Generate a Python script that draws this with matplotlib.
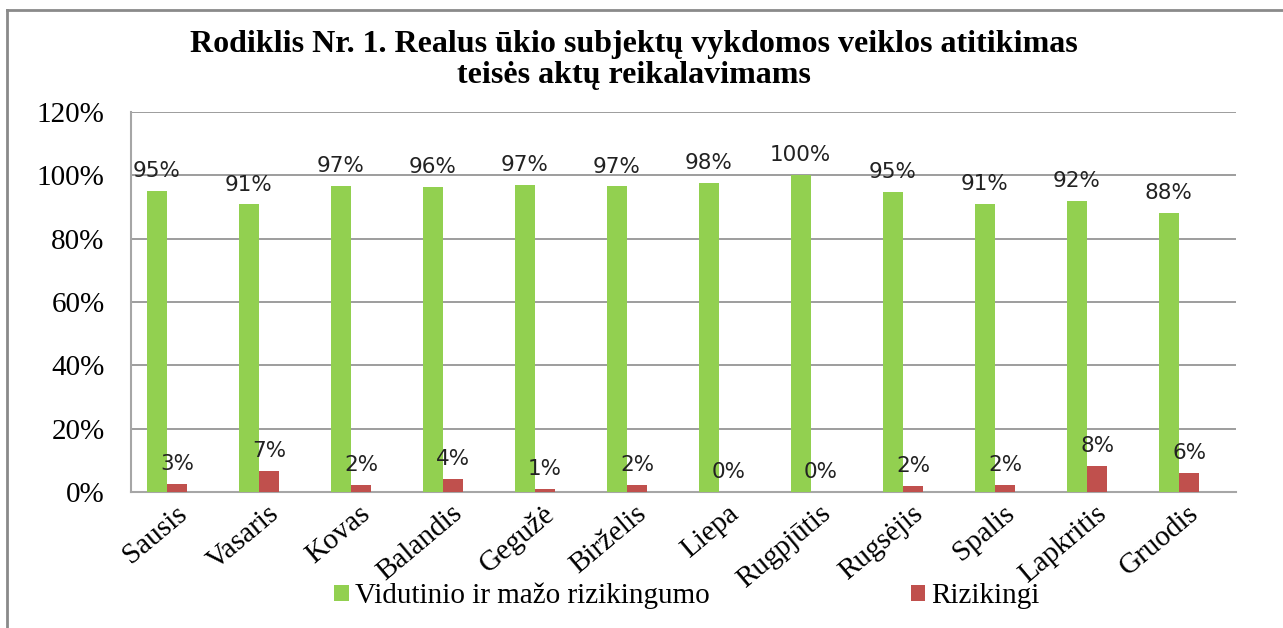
import matplotlib.pyplot as plt
import matplotlib.transforms as mtransforms
from matplotlib.lines import Line2D
import numpy as np

# duomenys
menesiai = ['Sausis', 'Vasaris', 'Kovas', 'Balandis', 'Gegužė', 'Birželis',
            'Liepa', 'Rugpjūtis', 'Rugsėjis', 'Spalis', 'Lapkritis', 'Gruodis']
vidutinio = [95.0, 90.8, 96.7, 96.2, 97.0, 96.5, 97.5, 100.0, 94.8, 91.1, 91.8, 88.1]
rizikingi = [2.5, 6.7, 2.2, 4.1, 1.0, 2.2, 0.0, 0.0, 1.9, 2.2, 8.2, 6.1]
vid_labels = ['95%', '91%', '97%', '96%', '97%', '97%', '98%', '100%', '95%', '91%', '92%', '88%']
riz_labels = ['3%', '7%', '2%', '4%', '1%', '2%', '0%', '0%', '2%', '2%', '8%', '6%']
y_ticks = [0, 20, 40, 60, 80, 100, 120]

GREEN = '#92D050'
RED = '#C0504D'
SERIF = ['Liberation Serif', 'DejaVu Serif']

fig = plt.figure(figsize=(12.83, 6.28), dpi=100)
ax = fig.add_axes([131 / 1283, 1 - 492 / 628, (1236 - 131) / 1283, (492 - 112) / 628])

x = np.arange(len(menesiai))
w = 0.22
b1 = ax.bar(x - w / 2, vidutinio, w, color=GREEN, label='Vidutinio ir mažo rizikingumo', zorder=3)
b2 = ax.bar(x + w / 2, rizikingi, w, color=RED, label='Rizikingi', zorder=3)

# reikšmių etiketės
for rects, labels in ((b1, vid_labels), (b2, riz_labels)):
    for r, lab in zip(rects, labels):
        ax.annotate(lab, (r.get_x() + r.get_width() / 2, r.get_height()),
                    xytext=(0, 10), textcoords='offset points',
                    ha='center', va='baseline', fontsize=15.5,
                    family='DejaVu Sans', color='#222222')

ax.set_ylim(0, 120)
ax.set_xlim(-0.39, 11.62)
ax.set_yticks(y_ticks)
ax.set_yticklabels([f'{v}%' for v in y_ticks], family=SERIF, fontsize=21)
ax.tick_params(axis='y', length=0, pad=19)
ax.set_xticks(x)
ax.set_xticklabels(menesiai, family=SERIF, fontsize=21, rotation=40,
                   ha='right', rotation_mode='anchor')
ax.tick_params(axis='x', length=0, pad=6)
offset = mtransforms.ScaledTranslation(0.08, 0, fig.dpi_scale_trans)
for lab in ax.get_xticklabels():
    lab.set_transform(lab.get_transform() + offset)

ax.grid(axis='y', color='#8c8c8c', linewidth=1.2, zorder=0)
for s in ('top', 'right'):
    ax.spines[s].set_visible(False)
for s in ('left', 'bottom'):
    ax.spines[s].set_color('#a6a6a6')
    ax.spines[s].set_linewidth(1.5)

# pavadinimas
fig.text(634 / 1283, 1 - 52 / 628, 'Rodiklis Nr. 1. Realus ūkio subjektų vykdomos veiklos atitikimas',
         ha='center', va='baseline', fontsize=23, fontweight='bold', family=SERIF)
fig.text(634 / 1283, 1 - 83 / 628, 'teisės aktų reikalavimams',
         ha='center', va='baseline', fontsize=23, fontweight='bold', family=SERIF)

# legenda
fig.legend(handles=[b1, b2], loc='center', bbox_to_anchor=(687 / 1283, 1 - 596 / 628),
           ncol=2, frameon=False, handlelength=0.5, handleheight=0.45,
           handletextpad=0.2, columnspacing=6.9,
           prop={'family': SERIF, 'size': 21})

# rėmelis
fig.add_artist(Line2D([7 / 1283, 7 / 1283], [0, 1 - 10 / 628], transform=fig.transFigure,
                      color='#8a8a8a', linewidth=2))
fig.add_artist(Line2D([7 / 1283, 1], [1 - 10 / 628, 1 - 10 / 628], transform=fig.transFigure,
                      color='#8a8a8a', linewidth=2))

plt.savefig('out.png', dpi=100)
